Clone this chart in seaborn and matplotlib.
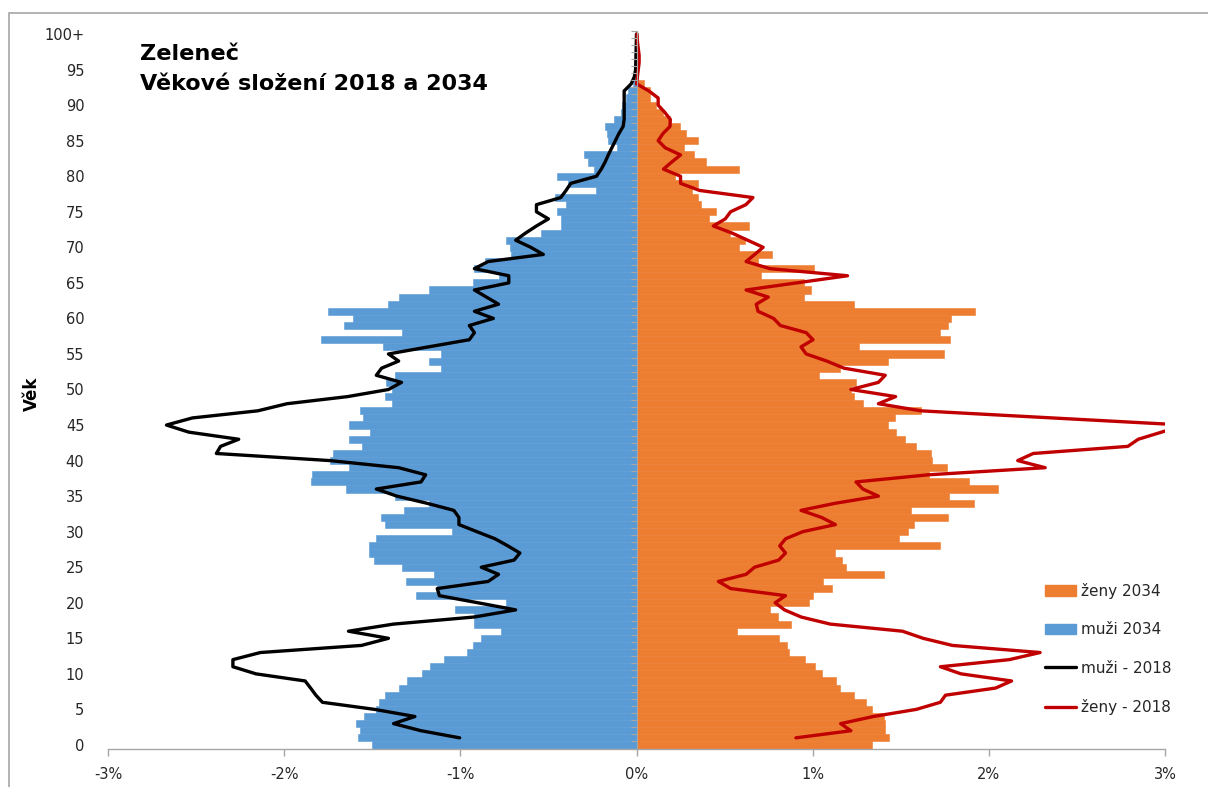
import numpy as np
import pandas as pd
import matplotlib
matplotlib.use("Agg")
import matplotlib.pyplot as plt
import seaborn as sns
from matplotlib.patches import Patch, Rectangle
from matplotlib.lines import Line2D
from matplotlib.ticker import FuncFormatter, FixedLocator

sns.set_theme(style="white")
plt.rcParams['font.family'] = ['DejaVu Sans']

# ---------------- data ----------------
ages = np.arange(0, 101)
age_labels = [str(v) for v in range(0, 100, 5)] + ["100+"]

men_2034 = [
    -1.50, -1.58, -1.57, -1.59, -1.545, -1.48, -1.46, -1.43, -1.35, -1.30,
    -1.22, -1.17, -1.09, -0.96, -0.93, -0.88, -0.77, -0.92, -0.92, -1.03,
    -0.74, -1.25, -1.13, -1.31, -1.15, -1.33, -1.49, -1.52, -1.52, -1.48,
    -1.05, -1.43, -1.45, -1.32, -1.18, -1.37, -1.65, -1.85, -1.84, -1.63,
    -1.74, -1.72, -1.56, -1.63, -1.51, -1.63, -1.55, -1.57, -1.39, -1.43,
    -1.39, -1.42, -1.37, -1.11, -1.18, -1.11, -1.44, -1.79, -1.33, -1.66,
    -1.61, -1.75, -1.41, -1.35, -1.18, -0.93, -0.78, -0.92, -0.86, -0.71,
    -0.72, -0.74, -0.54, -0.43, -0.43, -0.45, -0.40, -0.46, -0.23, -0.39,
    -0.45, -0.24, -0.275, -0.30, -0.11, -0.16, -0.17, -0.18, -0.13, -0.09,
    -0.08, -0.06, -0.05, -0.02, -0.02, -0.01, 0.0, 0.0, 0.0, 0.0,
    0.0,
]

women_2034 = [
    1.336, 1.432, 1.413, 1.413, 1.403, 1.334, 1.301, 1.233, 1.153, 1.133,
    1.051, 1.012, 0.959, 0.866, 0.856, 0.811, 0.573, 0.879, 0.801, 0.758,
    0.977, 1.003, 1.110, 1.061, 1.407, 1.192, 1.168, 1.125, 1.725, 1.491,
    1.543, 1.575, 1.768, 1.559, 1.917, 1.774, 2.051, 1.887, 1.661, 1.764,
    1.680, 1.670, 1.584, 1.524, 1.471, 1.426, 1.467, 1.614, 1.286, 1.237,
    1.217, 1.247, 1.038, 1.153, 1.428, 1.745, 1.262, 1.780, 1.725, 1.770,
    1.784, 1.920, 1.237, 0.950, 0.993, 0.950, 0.704, 1.008, 0.690, 0.768,
    0.579, 0.618, 0.528, 0.641, 0.411, 0.450, 0.368, 0.348, 0.313, 0.348,
    0.221, 0.583, 0.397, 0.328, 0.270, 0.348, 0.280, 0.245, 0.192, 0.153,
    0.110, 0.075, 0.075, 0.040, 0.010, 0.0, 0.0, 0.0, 0.0, 0.0,
    0.0,
]

line_ages = np.arange(0, 100)

men_2018 = [
    -1.004, -1.223, -1.379, -1.258, -1.486, -1.783, -1.82, -1.85, -1.881, -2.160,
    -2.291, -2.291, -2.135, -1.561, -1.408, -1.635, -1.379, -0.920, -0.686, -0.90,
    -1.119, -1.131, -0.842, -0.783, -0.881, -0.695, -0.662, -0.73, -0.803, -0.906,
    -1.008, -1.008, -1.037, -1.19, -1.36, -1.477, -1.223, -1.197, -1.350, -1.740,
    -2.385, -2.361, -2.258, -2.541, -2.668, -2.521, -2.150, -1.984, -1.64, -1.408,
    -1.334, -1.477, -1.447, -1.350, -1.408, -1.18, -0.949, -0.92, -0.949, -0.8125,
    -0.92, -0.783, -0.852, -0.92, -0.725, -0.725, -0.92, -0.842, -0.529, -0.60,
    -0.686, -0.63, -0.568, -0.50, -0.568, -0.568, -0.43, -0.40, -0.373, -0.227,
    -0.20, -0.178, -0.16, -0.14, -0.12, -0.10, -0.076, -0.07, -0.07, -0.07,
    -0.07, -0.07, -0.03, -0.012, -0.005, -0.004, -0.003, -0.002, -0.001, 0.0,
]

women_2018 = [
    0.905, 1.217, 1.159, 1.344, 1.588, 1.725, 1.754, 2.038, 2.129, 1.842,
    1.725, 2.116, 2.291, 1.793, 1.627, 1.510, 1.100, 0.934, 0.84, 0.787,
    0.846, 0.534, 0.465, 0.622, 0.670, 0.807, 0.846, 0.813, 0.846, 0.944,
    1.129, 1.051, 0.934, 1.129, 1.373, 1.285, 1.246, 1.657, 2.320, 2.164,
    2.252, 2.789, 2.848, 2.98, 3.11, 2.36, 1.614, 1.373, 1.471, 1.217,
    1.373, 1.412, 1.178, 1.080, 0.963, 0.934, 1.002, 0.963, 0.817, 0.778,
    0.690, 0.680, 0.748, 0.622, 0.91, 1.198, 0.758, 0.622, 0.671, 0.719,
    0.631, 0.543, 0.436, 0.504, 0.534, 0.621, 0.661, 0.358, 0.25, 0.25,
    0.153, 0.20, 0.25, 0.163, 0.123, 0.15, 0.19, 0.192, 0.16, 0.123,
    0.123, 0.07, 0.0, 0.005, 0.01, 0.015, 0.015, 0.01, 0.005, 0.003,
]

legend_labels = ["ženy 2034", "muži 2034", "muži - 2018", "ženy - 2018"]
title_lines = ["Zeleneč", "Věkové složení 2018 a 2034"]
y_title = "Věk"

# ---------------- styling ----------------
BLUE = "#5B9BD5"
ORANGE = "#ED7D31"
RED = "#C00000"
BLACK = "#000000"
GRAY = "#A6A6A6"
TXT = "#262626"

W, H = 1208, 787
fig = plt.figure(figsize=(W / 100, H / 100), dpi=100)
ax = fig.add_axes([108 / W, 1 - 748.5 / H, (1165 - 108) / W, (748.5 - 30.5) / H])

bars = pd.DataFrame({"age": ages, "men": men_2034, "women": women_2034})
sns.barplot(data=bars, x="men", y="age", orient="y", native_scale=True, width=1,
            color=BLUE, saturation=1, errorbar=None, edgecolor=BLUE, linewidth=0.4, ax=ax)
sns.barplot(data=bars, x="women", y="age", orient="y", native_scale=True, width=1,
            color=ORANGE, saturation=1, errorbar=None, edgecolor=ORANGE, linewidth=0.4, ax=ax)

lines = pd.DataFrame({"pos": line_ages + 1, "men": men_2018, "women": women_2018})
sns.lineplot(data=lines, x="men", y="pos", sort=False, estimator=None, color=BLACK,
             linewidth=2.4, solid_joinstyle="round", ax=ax)
sns.lineplot(data=lines, x="women", y="pos", sort=False, estimator=None, color=RED,
             linewidth=2.4, solid_joinstyle="round", ax=ax)

ax.set_xlim(-3, 3)
ax.set_ylim(-0.5, 100.5)
ax.set_xlabel("")
ax.set_ylabel("")
ax.set_xticks(range(-3, 4))
ax.xaxis.set_major_formatter(FuncFormatter(lambda v, p: f"{int(round(v))}%"))
ax.set_yticks(list(range(0, 101, 5)))
ax.set_yticklabels(age_labels)

for s in ["left", "top", "right"]:
    ax.spines[s].set_visible(False)
ax.spines["bottom"].set_color(GRAY)
ax.spines["bottom"].set_linewidth(1)
ax.tick_params(axis="x", direction="out", length=5, width=1, color=GRAY,
               labelsize=10.5, labelcolor=TXT, pad=8, bottom=True)
ax.tick_params(axis="y", length=0, labelsize=10.5, labelcolor=TXT, pad=17)
ax.grid(False)

# central category axis with a tick at every age boundary
sec = ax.secondary_yaxis(0.5)
sec.set_alignment("left")
sec.yaxis.set_major_locator(FixedLocator(np.arange(-0.5, 101, 1)))
sec.tick_params(axis="y", direction="out", length=4, width=0.8, color=GRAY,
                labelleft=False, labelright=False)
sec.spines["left"].set_color(GRAY)
sec.spines["left"].set_linewidth(0.8)
sec.spines["right"].set_visible(False)
sec.set_zorder(3)

# titles
fig.text(140 / W, 1 - 59.5 / H, title_lines[0], fontsize=16.2, fontweight="bold",
         color="black", ha="left", va="baseline")
fig.text(140 / W, 1 - 89.5 / H, title_lines[1], fontsize=16.0, fontweight="bold",
         color="black", ha="left", va="baseline")
fig.text(32 / W, 1 - 394 / H, y_title, rotation=90, fontsize=12, fontweight="bold",
         color="black", ha="center", va="center")

# legend
handles = [Patch(facecolor=ORANGE, edgecolor=ORANGE), Patch(facecolor=BLUE, edgecolor=BLUE),
           Line2D([], [], color=BLACK, lw=2.4), Line2D([], [], color=RED, lw=2.4)]
fig.legend(handles, legend_labels, loc="upper left", bbox_to_anchor=(1045 / W, 1 - 583 / H),
           bbox_transform=fig.transFigure, frameon=False, fontsize=11, labelspacing=1.53,
           handlelength=2.0, handleheight=0.7, handletextpad=0.35, borderpad=0,
           borderaxespad=0, labelcolor=TXT)

# chart border (top and left visible)
fig.add_artist(Rectangle((9 / W, -0.2), 2, (1 - 12.5 / H) + 0.2, transform=fig.transFigure,
                         fill=False, edgecolor=GRAY, linewidth=1.2))

fig.savefig("out.png", dpi=100)
